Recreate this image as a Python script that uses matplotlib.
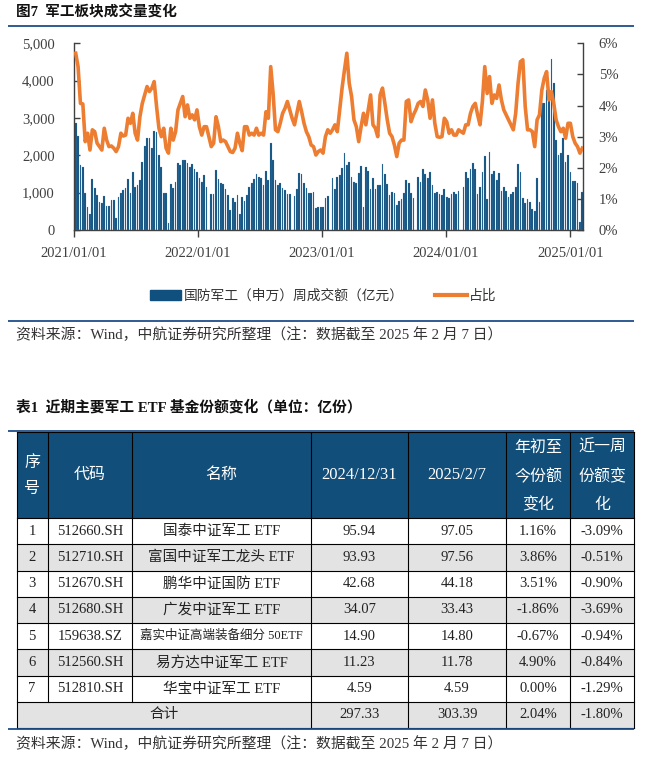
import numpy as np
import pandas as pd
import matplotlib
matplotlib.use('Agg')
import matplotlib.pyplot as plt
from matplotlib.ticker import FuncFormatter, MultipleLocator
from matplotlib.patches import Rectangle
from matplotlib.lines import Line2D
import matplotlib.dates as mdates

CJK = 'Noto Sans CJK SC'
SERIF = 'Liberation Serif'
MIX = [SERIF, CJK]

# ---------------- chart data (weekly, Fridays from 2021-01-08) ----------------
vol_2021 = [2875, 2520, 1740, 1680, 980, 625, 420, 1357, 1134, 937, 760, 714, 910, 643, 643,
            800, 800, 330, 893, 1000, 1070, 1116, 1366, 980, 1562, 1160, 1196, 1340, 1812,
            2259, 2455, 2473, 2188, 2652, 2634, 2009, 1696, 982, 982, 196, 1232, 1134, 1295,
            1786, 1741, 1875, 1875, 1786, 1696, 1759, 1634, 1562]
vol_2022 = [1402, 1295, 1473, 1160, np.nan, 955, 955, 1607, 1366, 1250, 1223, 1089, 937, 536,
            866, 760, 937, 420, 893, 786, 937, 1160, 1250, 1366, 1491, 1428, 1384, 1205, 1580,
            1340, 2339, 1875, 1340, 1205, 1268, 1134, 1070, 955, 955, np.nan, 920, 1098, 1518,
            1500, 1268, 1134, 1000, 1000, 1027, 580, 625, 625]
vol_2023 = [616, 866, 920, np.nan, 1384, 1089, 1428, 1473, 1652, 2071, 1741, 1812, 1428, 1295,
            1250, 1518, 1714, 625, 1678, 1580, 1089, 1402, 1098, 1196, 1205, 1759, 1500, 1223,
            937, 1009, 1000, 670, 786, 830, 1000, 1340, 1268, 982, 866, np.nan, 1411, 1295,
            1625, 1491, 1384, 1553, 1205, 1000, 1009, 955, 937, 1098]
vol_2024 = [893, 866, 955, 1009, 955, 1045, np.nan, 1143, 1562, 1384, 1634, 1804, 1634, 964,
            1160, 1562, 1991, 830, 2098, 1500, 1580, 1340, 1536, 1054, 1160, 1045, 875, 955,
            1009, 1143, 1759, 1562, 848, 714, 821, 750, 562, 509, 1384, 741, 3390, 3390, 3750,
            3500, 4570, 3930, 2410, 2010, 2050, 2460, 1830, 2010]
vol_2025 = [1560, 1320, 1300, 1270, 220, 1030]

pct_2021 = [5.68, 5.25, 4.07, 4.05, 2.84, 3.11, 2.57, 3.22, 3.16, 2.79, 2.68, 2.57, 3.27, 2.89,
            2.68, 2.70, 2.63, 2.52, 2.68, 3.11, 3.02, 3.05, 3.59, 3.43, 3.75, 3.11, 2.89,
            3.64, 4.07, 4.34, 4.61, 4.45, 4.56, 4.77, 3.97, 3.27, 3.00, 3.27, 2.63, 2.47, 3.27,
            2.89, 3.16, 3.86, 4.07, 4.29, 3.64, 4.02, 3.59, 3.70, 3.54, 3.86]
pct_2022 = [3.32, 3.05, 3.32, 3.32, 3.00, 2.68, 2.79, 3.64, 3.32, 2.84, 2.89, 2.84, 2.68, 2.52,
            2.49, 2.63, 3.11, 2.79, 2.55, 3.32, 3.32, 3.05, 3.11, 3.05, 3.27, 3.05, 3.11, 3.05,
            3.80, 3.59, 5.25, 4.39, 3.22, 3.16, 3.43, 3.75, 3.91, 4.13, 3.86, 3.59, 3.38, 3.75,
            4.13, 3.80, 3.43, 3.16, 3.00, 2.73, 2.68, 2.41, 2.52, 2.57]
pct_2023 = [2.47, 3.00, 3.22, 3.11, 3.22, 3.38, 3.16, 3.86, 4.56, 5.14, 5.68, 4.72, 4.29, 3.54,
            3.32, 2.84, 3.32, 3.75, 3.38, 3.86, 4.34, 3.38, 3.27, 3.00, 4.34, 4.56, 4.07, 3.54,
            3.11, 3.00, 2.73, 2.36, 2.79, 2.89, 2.89, 4.13, 4.18, 3.48, 3.70, 3.86, 4.07, 4.13,
            3.97, 4.50, 4.18, 3.59, 4.18, 3.43, 3.00, 2.98, 3.00, 3.59]
pct_2024 = [3.48, 3.11, 3.22, 3.05, 3.05, 3.22, 3.16, 3.11, 3.38, 3.38, 3.75, 3.97, 4.07, 3.70,
            3.38, 4.13, 5.25, 4.39, 4.93, 4.07, 4.34, 4.23, 4.66, 4.18, 3.86, 3.70, 3.54, 3.38,
            3.22, 3.75, 4.72, 5.41, 5.47, 3.97, 3.22, 3.22, 3.16, 2.68, 3.54, 3.70, 4.50, 4.88,
            5.09, 4.18, 4.45, 4.07, 3.54, 3.32, 3.16, 3.27, 2.95, 3.43]
pct_2025 = [3.43, 3.00, 2.79, 2.68, 2.47, 2.63]

volume = np.array(vol_2021 + vol_2022 + vol_2023 + vol_2024 + vol_2025, dtype=float)
share = np.array(pct_2021 + pct_2022 + pct_2023 + pct_2024 + pct_2025) / 100.0
dates = pd.date_range('2021-01-08', periods=len(volume), freq='7D')
xpos = dates - pd.Timedelta(days=2)   # centre of the trading week

# ---------------- table data ----------------
seq = ['1', '2', '3', '4', '5', '6', '7']
codes = ['512660.SH', '512710.SH', '512670.SH', '512680.SH', '159638.SZ', '512560.SH', '512810.SH']
names = ['国泰中证军工 ETF', '富国中证军工龙头 ETF', '鹏华中证国防 ETF', '广发中证军工 ETF',
         '嘉实中证高端装备细分 50ETF', '易方达中证军工 ETF', '华宝中证军工 ETF']
share_start = [95.94, 93.93, 42.68, 34.07, 14.90, 11.23, 4.59]
share_now = [97.05, 97.56, 44.18, 33.43, 14.80, 11.78, 4.59]
ytd_chg = [1.16, 3.86, 3.51, -1.86, -0.67, 4.90, 0.00]
week_chg = [-3.09, -0.51, -0.90, -3.69, -0.94, -0.84, -1.29]
total_label = '合计'
total_vals = [297.33, 303.39, 2.04, -1.80]
headers = [['序', '号'], ['代码'], ['名称'], ['2024/12/31'], ['2025/2/7'],
           ['年初至', '今份额', '变化'], ['近一周', '份额变', '化']]

BAR = '#10507F'
ORANGE = '#ED7D31'
RULE = '#1F4E89'
HEAD = '#114E79'
GRAY = '#E3E3E3'
AXC = '#404040'

W, H = 647, 765
fig = plt.figure(figsize=(W / 100, H / 100), dpi=100)
fig.patch.set_facecolor('white')


def fx(px):
    return px / W


def fy(py):
    return 1 - py / H


# ---------------- chart ----------------
L, R, T, B = 74, 583.3, 43.3, 230
ax = fig.add_axes([fx(L), fy(B), fx(R) - fx(L), fy(T) - fy(B)])
ax.bar(xpos, volume, width=5, color=BAR, edgecolor='#6f9cc2', linewidth=0.15, zorder=2)
ax.set_ylim(0, 5000)
ax.yaxis.set_major_locator(MultipleLocator(1000))
ax.yaxis.set_major_formatter(FuncFormatter(lambda v, p: f'{int(v):,}'))
ax.set_xlim(pd.Timestamp('2021-01-01'), pd.Timestamp('2025-02-08'))
ax.xaxis.set_major_locator(mdates.YearLocator())
ax.xaxis.set_major_formatter(mdates.DateFormatter('%Y/%m/%d'))

ax2 = ax.twinx()
ax2.plot(xpos, share, color=ORANGE, lw=2.6, zorder=3, solid_joinstyle='round')
ax2.set_ylim(0, 0.06)
ax2.yaxis.set_major_locator(MultipleLocator(0.01))
ax2.yaxis.set_major_formatter(FuncFormatter(lambda v, p: f'{v * 100:.0f}%'))

for a in (ax, ax2):
    a.spines['top'].set_visible(False)
    for s in a.spines.values():
        s.set_color(AXC)
        s.set_linewidth(1.0)
ax2.spines['left'].set_visible(False)
ax2.spines['bottom'].set_visible(False)
ax.spines['right'].set_visible(False)

ax.tick_params(axis='y', direction='in', length=4, width=1, color=AXC, pad=14,
               labelsize=10.5, labelcolor=AXC)
ax.tick_params(axis='x', direction='out', length=5, width=1, color=AXC, pad=7,
               labelsize=10.5, labelcolor=AXC)
ax2.tick_params(axis='y', direction='in', length=4, width=1, color=AXC, pad=11,
                labelsize=10.5, labelcolor=AXC)
for lab in ax.get_xticklabels() + ax.get_yticklabels() + ax2.get_yticklabels():
    lab.set_family(SERIF)

handles = [Rectangle((0, 0), 1, 1, color=BAR), Line2D([], [], color=ORANGE, lw=3)]
fig.legend(handles, ['国防军工（申万）周成交额（亿元）', '占比'], loc='center',
           bbox_to_anchor=(fx(323), fy(296)), ncol=2, frameon=False,
           prop={'family': CJK, 'size': 9.9}, handlelength=2.3, handleheight=0.75,
           handletextpad=0.15, columnspacing=2.3, labelcolor='#333333')

# ---------------- overlay: titles, rules, table ----------------
ov = fig.add_axes([0, 0, 1, 1])
ov.set_xlim(0, W)
ov.set_ylim(H, 0)
ov.axis('off')
ov.patch.set_alpha(0)

ov.text(16, 12, '图7  军工板块成交量变化', ha='left', va='center', fontsize=10.5,
        fontweight='bold', family=MIX, color='#111111')
ov.plot([8, 634], [26, 26], color=RULE, lw=1.3, solid_capstyle='butt')
ov.plot([8, 634], [320.7, 320.7], color=RULE, lw=1.3, solid_capstyle='butt')
src = '资料来源：Wind，中航证券研究所整理（注：数据截至 2025 年 2 月 7 日）'
ov.text(16, 335, src, ha='left', va='center', fontsize=10.7, family=MIX, color='#333333')

ov.text(16, 407, '表1  近期主要军工 ETF 基金份额变化（单位：亿份）', ha='left', va='center',
        fontsize=10.6, fontweight='bold', family=MIX, color='#111111')

cols = [16.5, 47.5, 132, 311, 408, 506, 570, 634]
top, hb = 432, 518
rh = 26.25
nrows = len(codes) + 1
bottom = hb + rh * nrows

# header
ov.add_patch(Rectangle((cols[0], top), cols[-1] - cols[0], hb - top, facecolor=HEAD,
                       edgecolor='none', zorder=1))
for i, lines in enumerate(headers):
    cx = (cols[i] + cols[i + 1]) / 2
    n = len(lines)
    if n == 1:
        ys = [(top + hb) / 2]
    elif n == 2:
        ys = [463, 489]
    else:
        ys = [448, 477, 505]
    for t, yy in zip(lines, ys):
        is_num = t[0].isdigit()
        ov.text(cx, yy, t, ha='center', va='center', color='white',
                fontsize=12 if is_num else 11.5, family=MIX, zorder=3)

# body rows
row_cells = []
for r in range(len(codes)):
    row_cells.append([seq[r], codes[r], names[r], f'{share_start[r]:.2f}',
                      f'{share_now[r]:.2f}', f'{ytd_chg[r]:.2f}%', f'{week_chg[r]:.2f}%'])

for r in range(nrows):
    y0 = hb + r * rh
    if r % 2 == 1:
        ov.add_patch(Rectangle((cols[0], y0), cols[-1] - cols[0], rh, facecolor=GRAY,
                               edgecolor='none', zorder=1))
    yc = y0 + rh / 2
    if r < len(codes):
        for c, t in enumerate(row_cells[r]):
            cx = (cols[c] + cols[c + 1]) / 2
            fs = 10.5
            if c == 2 and len(t) > 13:
                fs = 9.0
            ov.text(cx, yc, t, ha='center', va='center', fontsize=fs, family=MIX,
                    color='#222222', zorder=3)
    else:
        ov.text((cols[0] + cols[3]) / 2, yc, total_label, ha='center', va='center',
                fontsize=10.5, family=MIX, color='#222222', zorder=3)
        tv = [f'{total_vals[0]:.2f}', f'{total_vals[1]:.2f}', f'{total_vals[2]:.2f}%',
              f'{total_vals[3]:.2f}%']
        for k, t in enumerate(tv):
            c = 3 + k
            ov.text((cols[c] + cols[c + 1]) / 2, yc, t, ha='center', va='center',
                    fontsize=10.5, family=MIX, color='#222222', zorder=3)

# grid lines
lw = 0.8
for r in range(nrows + 1):
    yy = hb + r * rh
    ov.plot([cols[0], cols[-1]], [yy, yy], color='black', lw=lw, zorder=4)
ov.plot([cols[0], cols[-1]], [top, top], color='black', lw=lw, zorder=4)
for i, xx in enumerate(cols):
    if i in (1, 2):
        ov.plot([xx, xx], [top, bottom - rh], color='black', lw=lw, zorder=4)
    else:
        ov.plot([xx, xx], [top, bottom], color='black', lw=lw, zorder=4)

ov.plot([8, 634], [431, 431], color=RULE, lw=1.3, zorder=5, solid_capstyle='butt')
ov.plot([8, 634], [bottom + 0.5, bottom + 0.5], color=RULE, lw=1.3, zorder=5,
        solid_capstyle='butt')
ov.text(16, 744, src, ha='left', va='center', fontsize=10.7, family=MIX, color='#333333')

fig.savefig('out.png', dpi=100, facecolor='white')
